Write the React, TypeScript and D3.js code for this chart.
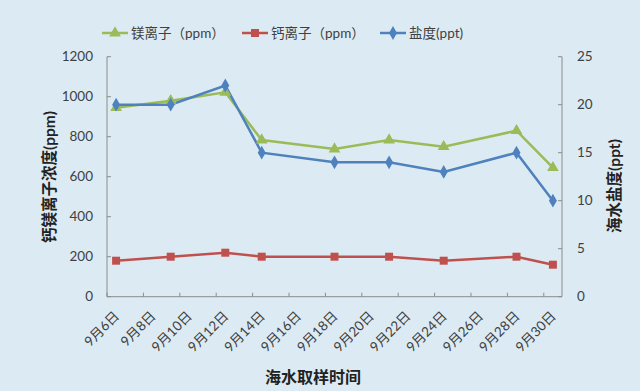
import React from "react";
import * as d3 from "d3";

// days of September when samples were taken
const sampleDays = [6, 9, 12, 14, 18, 21, 24, 28, 30];
const magnesium = [945, 980, 1022, 783, 738, 783, 750, 830, 645];
const calcium = [180, 200, 220, 200, 200, 200, 180, 200, 160];
const salinity = [20, 20, 22, 15, 14, 14, 13, 15, 10];

const tickDays = [6, 8, 10, 12, 14, 16, 18, 20, 22, 24, 26, 28, 30];
const leftTicks = [0, 200, 400, 600, 800, 1000, 1200];
const rightTicks = [0, 5, 10, 15, 20, 25];

const W = 640;
const H = 391;
const font = "Lato, 'Noto Sans CJK SC', sans-serif";
const axisColor = "#8c8c8c";

const GREEN = "#9bbb59";
const RED = "#c0504d";
const BLUE = "#4f81bd";

function App() {
  const x = d3.scaleLinear().domain([5.5, 30.5]).range([107, 562]);
  const yL = d3.scaleLinear().domain([0, 1200]).range([296.7, 56.7]);
  const yR = d3.scaleLinear().domain([0, 25]).range([296.7, 56.7]);

  const lineL = d3
    .line<number>()
    .x((_, i) => x(sampleDays[i]))
    .y((d) => yL(d));
  const lineR = d3
    .line<number>()
    .x((_, i) => x(sampleDays[i]))
    .y((d) => yR(d));

  const tri = d3.symbol().type(d3.symbolTriangle).size(60)() as string;
  const sq = d3.symbol().type(d3.symbolSquare).size(64)() as string;
  const dia = d3.symbol().type(d3.symbolDiamond).size(55)() as string;

  // boundaries every 2 days, starting at the left edge
  const bounds = d3.range(0, 13).map((k) => 5.5 + k * 2);

  const legend = [
    { x: 102, color: GREEN, mark: tri, label: "镁离子（ppm）" },
    { x: 242, color: RED, mark: sq, label: "钙离子（ppm）" },
    { x: 380, color: BLUE, mark: dia, label: "盐度(ppt)" },
  ];

  return (
    <svg
      width={W}
      height={H}
      style={{ position: "absolute", left: 0, top: 0 }}
      fontFamily={font}
    >
      <rect width={W} height={H} fill="#dcebf3" />

      {/* axes */}
      <line x1={107} x2={107} y1={56.7} y2={296.7} stroke={axisColor} />
      <line x1={562} x2={562} y1={56.7} y2={296.7} stroke={axisColor} />
      <line x1={107} x2={562} y1={296.7} y2={296.7} stroke={axisColor} />

      {leftTicks.map((t) => (
        <g key={"l" + t}>
          <line x1={107} x2={111} y1={yL(t)} y2={yL(t)} stroke={axisColor} />
          <text
            x={93}
            y={yL(t)}
            dy="0.35em"
            textAnchor="end"
            fontSize={13.5}
            fill="#404040"
          >
            {t}
          </text>
        </g>
      ))}
      {rightTicks.map((t) => (
        <g key={"r" + t}>
          <line x1={558} x2={562} y1={yR(t)} y2={yR(t)} stroke={axisColor} />
          <text
            x={577}
            y={yR(t)}
            dy="0.35em"
            fontSize={13.5}
            fill="#404040"
          >
            {t}
          </text>
        </g>
      ))}
      {bounds.map((b) => (
        <line
          key={"b" + b}
          x1={x(b)}
          x2={x(b)}
          y1={296.7}
          y2={292.7}
          stroke={axisColor}
        />
      ))}
      {tickDays.map((d) => (
        <text
          key={"d" + d}
          transform={`translate(${x(d) + 4},${317}) rotate(-45)`}
          textAnchor="end"
          fontSize={13.5}
          fill="#404040"
        >
          {`9月${d}日`}
        </text>
      ))}

      {/* axis titles */}
      <text
        transform="translate(55,177) rotate(-90)"
        textAnchor="middle"
        fontSize={15.5}
        fontWeight="bold"
        fill="#222"
      >
        钙镁离子浓度(ppm)
      </text>
      <text
        transform="translate(620,186) rotate(-90)"
        textAnchor="middle"
        fontSize={15.5}
        fontWeight="bold"
        fill="#222"
      >
        海水盐度(ppt)
      </text>
      <text
        x={313}
        y={383}
        textAnchor="middle"
        fontSize={16}
        fontWeight="bold"
        fill="#222"
      >
        海水取样时间
      </text>

      {/* series */}
      <path d={lineL(magnesium) as string} fill="none" stroke={GREEN} strokeWidth={2.5} />
      <path d={lineL(calcium) as string} fill="none" stroke={RED} strokeWidth={2.5} />
      <path d={lineR(salinity) as string} fill="none" stroke={BLUE} strokeWidth={2.5} />
      {magnesium.map((v, i) => (
        <path key={"m" + i} d={tri} fill={GREEN} transform={`translate(${x(sampleDays[i])},${yL(v)})`} />
      ))}
      {calcium.map((v, i) => (
        <path key={"c" + i} d={sq} fill={RED} transform={`translate(${x(sampleDays[i])},${yL(v)})`} />
      ))}
      {salinity.map((v, i) => (
        <path key={"s" + i} d={dia} fill={BLUE} transform={`translate(${x(sampleDays[i])},${yR(v)})`} />
      ))}

      {/* legend */}
      {legend.map((l) => (
        <g key={l.label}>
          <line x1={l.x} x2={l.x + 26} y1={33} y2={33} stroke={l.color} strokeWidth={2.5} />
          <path d={l.mark} fill={l.color} transform={`translate(${l.x + 13},33)`} />
          <text x={l.x + 29} y={33} dy="0.35em" fontSize={13.5} fill="#404040">
            {l.label}
          </text>
        </g>
      ))}
    </svg>
  );
}

export default App;
